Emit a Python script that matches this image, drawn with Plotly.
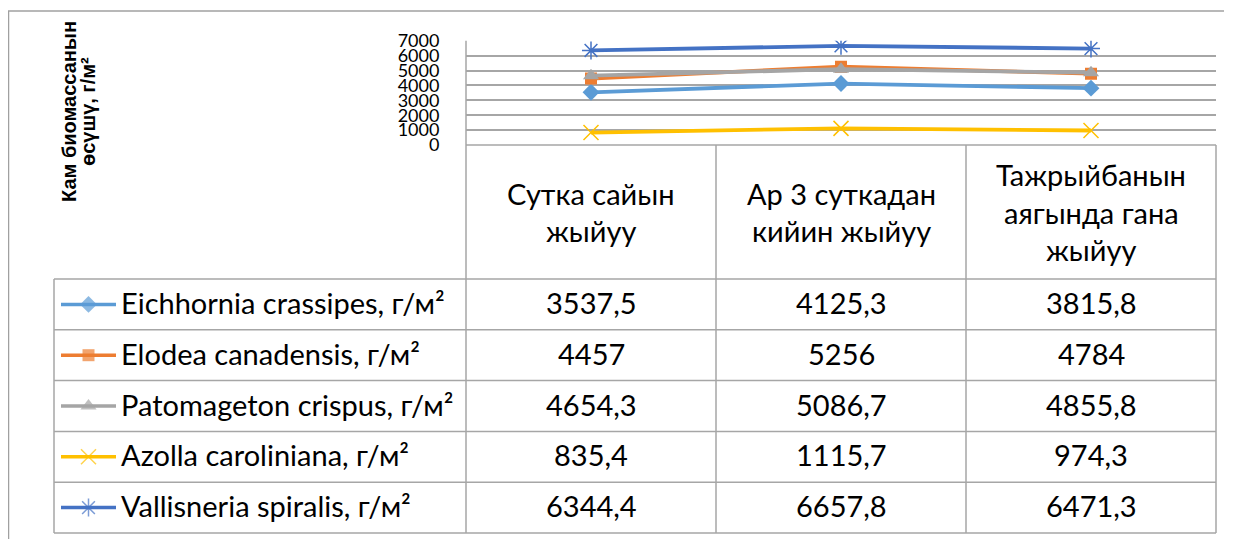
import plotly.graph_objects as go

# ---------------- data ----------------
categories = ["Сутка сайын<br>жыйуу", "Ар 3 суткадан<br>кийин жыйуу", "Тажрыйбанын<br>аягында гана<br>жыйуу"]
series_names = ["Eichhornia crassipes, г/м²", "Elodea canadensis, г/м²", "Patomageton crispus, г/м²",
                "Azolla caroliniana, г/м²", "Vallisneria spiralis, г/м²"]
eichhornia = [3537.5, 4125.3, 3815.8]
elodea = [4457, 5256, 4784]
patomageton = [4654.3, 5086.7, 4855.8]
azolla = [835.4, 1115.7, 974.3]
vallisneria = [6344.4, 6657.8, 6471.3]
table_labels = [["3537,5", "4125,3", "3815,8"],
                ["4457", "5256", "4784"],
                ["4654,3", "5086,7", "4855,8"],
                ["835,4", "1115,7", "974,3"],
                ["6344,4", "6657,8", "6471,3"]]
y_ticks = [0, 1000, 2000, 3000, 4000, 5000, 6000, 7000]
y_title_lines = ["Кам биомассанын", "өсүшү, г/м²"]

# ---------------- styles ----------------
OFF = 8                      # page body margin
W, H = 1233 - OFF, 539 - OFF
colors = ["#5B9BD5", "#ED7D31", "#A5A5A5", "#FFC000", "#4472C4"]
symbols = ["diamond", "square", "triangle-up", "x-thin-open", "asterisk-open"]
msizes = [13, 12, 14, 15, 15]
mlw = [0, 0, 0, 1.5, 1.5]
all_series = [eichhornia, elodea, patomageton, azolla, vallisneria]

PL, PR = 466, 1216          # plot left/right px (screen)
PT, PB = 40.7, 145          # plot top/bottom px (screen)
HEAD_B = 279                # header bottom
ROW_H = 50.8
TAB_L = 54
GRID = "#A6A6A6"
TFONT = dict(family="Lato, 'Open Sans', sans-serif", size=29, color="#000000")


def fx(px):
    return (px - OFF) / W


def fy(py):
    return 1 - (py - OFF) / H


fig = go.Figure()
xs = [0, 1, 2]
for name, vals, c, s, ms, lw in zip(series_names, all_series, colors, symbols, msizes, mlw):
    fig.add_trace(go.Scatter(
        x=xs, y=vals, mode="lines+markers", name=name,
        line=dict(color=c, width=3.8),
        marker=dict(symbol=s, size=ms, color=c, line=dict(color=c, width=lw)),
        showlegend=False, xaxis="x", yaxis="y"))

# legend keys in the data table (pixel axis x2/y2)
for i, (c, s, ms, lw) in enumerate(zip(colors, symbols, msizes, mlw)):
    cy = HEAD_B + ROW_H * (i + 0.5)
    fig.add_trace(go.Scatter(
        x=[61, 88.5, 116], y=[cy, cy, cy], mode="lines+markers",
        line=dict(color=c, width=3.5),
        marker=dict(symbol=s, size=[0, ms, 0], color=c, line=dict(color=c, width=lw)),
        showlegend=False, xaxis="x2", yaxis="y2", hoverinfo="skip"))

shapes = []


def hline(y, x0, x1, color=GRID, width=1.5):
    shapes.append(dict(type="line", xref="paper", yref="paper", x0=fx(x0), x1=fx(x1),
                       y0=fy(y), y1=fy(y), line=dict(color=color, width=width)))


def vline(x, y0, y1, color=GRID, width=1.5):
    shapes.append(dict(type="line", xref="paper", yref="paper", x0=fx(x), x1=fx(x),
                       y0=fy(y0), y1=fy(y1), line=dict(color=color, width=width)))


# outer chart border
hline(11, 8, 1224, "#A0A0A0", 1.5)
vline(8.5, 11, 539, "#A0A0A0", 1.5)

# table lines
vline(PL, PT, HEAD_B + ROW_H * 5)
for k in (1, 2, 3):
    xk = PL + (PR - PL) * k / 3
    vline(xk, PB, HEAD_B + ROW_H * 5)
hline(PB, PL, PR)
for r in range(6):
    hline(HEAD_B + ROW_H * r, TAB_L, PR)
vline(TAB_L, HEAD_B, HEAD_B + ROW_H * 5)

annotations = []
# header texts
for k, cat in enumerate(categories):
    lines = cat.split("<br>")
    n = len(lines)
    for j, ln in enumerate(lines):
        yy = (PB + HEAD_B) / 2 + (j - (n - 1) / 2) * 37.5
        annotations.append(dict(x=k, xref="x", y=fy(yy), yref="paper", text=ln, showarrow=False,
                                xanchor="center", yanchor="middle", font=TFONT))
# rows
for i, name in enumerate(series_names):
    cy = HEAD_B + ROW_H * (i + 0.5) - 2
    annotations.append(dict(x=fx(119), xref="paper", y=fy(cy), yref="paper", text=name, showarrow=False,
                            xanchor="left", yanchor="middle", font=TFONT))
    for k in range(3):
        annotations.append(dict(x=k, xref="x", y=fy(cy), yref="paper", text=table_labels[i][k],
                                showarrow=False, xanchor="center", yanchor="middle", font=TFONT))
# y title
for j, ln in enumerate(y_title_lines):
    annotations.append(dict(x=fx(69 + j * 19), xref="paper", y=fy(112), yref="paper", text="<b>" + ln + "</b>",
                            textangle=-90, showarrow=False, xanchor="center", yanchor="middle",
                            font=dict(family="Liberation Sans, Arial, sans-serif", size=20, color="#000000")))

fig.update_layout(
    width=W, height=H, margin=dict(l=0, r=0, t=0, b=0, pad=0, autoexpand=False),
    paper_bgcolor="white", plot_bgcolor="rgba(0,0,0,0)",
    xaxis=dict(domain=[fx(PL), fx(PR)], range=[-0.5, 2.5], showticklabels=False, showgrid=False,
               zeroline=False, showline=False, fixedrange=True, automargin=False),
    yaxis=dict(domain=[fy(PB), fy(PT)], range=[0, 7000], tickvals=y_ticks, showgrid=True, gridcolor=GRID,
               gridwidth=1.5, zeroline=False, showline=False, ticks="outside", ticklen=22,
               tickcolor="rgba(0,0,0,0)", automargin=False, fixedrange=True,
               tickfont=dict(family="Lato, 'Open Sans', sans-serif", size=18, color="#000000")),
    xaxis2=dict(domain=[0, 1], range=[OFF, OFF + W], visible=False, fixedrange=True, anchor="y2",
                automargin=False),
    yaxis2=dict(domain=[0, 1], range=[OFF + H, OFF], visible=False, anchor="x2", fixedrange=True,
                automargin=False),
    shapes=shapes, annotations=annotations, showlegend=False,
)
fig.write_html("out.html")
